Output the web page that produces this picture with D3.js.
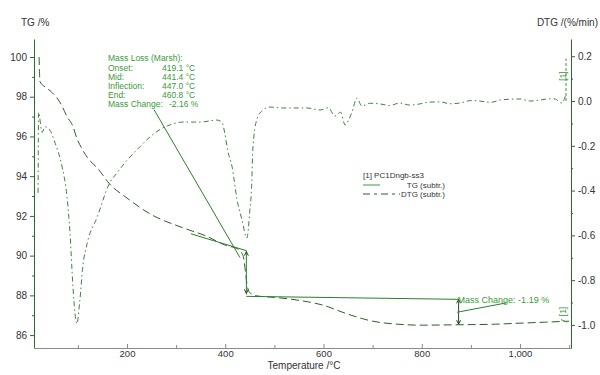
<!DOCTYPE html>
<html>
<head>
<meta charset="utf-8">
<script src="https://cdn.jsdelivr.net/npm/d3@7"></script>
<style>
  body { margin: 0; background: #fff; }
  svg { font-family: "Liberation Sans", Arial, sans-serif; }
  .tick text { fill: #333; font-size: 10px; }
  .axis-label { fill: #333; font-size: 10px; }
  .note { fill: #3a9a3a; font-size: 8.5px; }
  .legend { fill: #333; font-size: 8px; }
</style>
</head>
<body>
<svg width="600" height="375"></svg>
<script>
// TG curve (mass %)
const tgTemp = [21, 23, 33, 48, 64, 78, 90, 98, 108, 119, 140, 165, 200, 247, 314, 360, 403, 424, 432, 438, 441, 444, 448, 455, 465, 500, 550, 600, 650, 700, 750, 800, 875, 950, 1000, 1050, 1100];
const tgMass = [100.0, 98.75, 98.5, 98.2, 97.7, 97.0, 96.5, 95.9, 95.4, 94.95, 94.4, 93.6, 92.9, 92.1, 91.4, 91.0, 90.5, 90.35, 90.2, 89.8, 89.2, 88.6, 88.2, 88.05, 87.97, 87.9, 87.75, 87.5, 87.05, 86.7, 86.55, 86.5, 86.52, 86.55, 86.6, 86.65, 86.7];

// DTG curve (%/min)
const dtgTemp = [19, 20, 27, 33, 43, 54, 68, 78, 84, 90, 94, 98, 104, 110, 119, 139, 165, 180, 200, 226, 247, 273, 287, 314, 349, 383, 393, 399, 405, 414, 424, 434, 444, 450, 454, 456, 464, 477, 491, 517, 546, 566, 593, 610, 623, 635, 644, 652, 658, 668, 678, 695, 715, 735, 755, 775, 796, 815, 837, 858, 878, 900, 918, 940, 959, 980, 1000, 1020, 1040, 1060, 1071, 1085, 1093];
const dtgRate = [-0.41, -0.05, -0.14, -0.115, -0.13, -0.19, -0.295, -0.43, -0.59, -0.83, -0.945, -0.995, -0.89, -0.74, -0.635, -0.52, -0.365, -0.32, -0.265, -0.205, -0.16, -0.12, -0.107, -0.094, -0.094, -0.085, -0.094, -0.143, -0.22, -0.295, -0.44, -0.53, -0.612, -0.49, -0.365, -0.22, -0.085, -0.04, -0.027, -0.031, -0.031, -0.031, -0.04, -0.03, -0.067, -0.05, -0.107, -0.08, -0.049, 0.013, -0.022, -0.01, -0.013, -0.02, -0.009, -0.018, -0.013, -0.005, -0.004, -0.012, -0.009, 0.002, 0.0, -0.006, 0.004, 0.008, 0.009, 0.0, 0.004, 0.01, 0.009, -0.009, 0.027];

// tick labels
const xTicks = [200, 400, 600, 800, 1000];
const xMinor = [100, 300, 500, 700, 900, 1100];
const tgTicks = [86, 88, 90, 92, 94, 96, 98, 100];
const tgMinor = [87, 89, 91, 93, 95, 97, 99];
const dtgTicks = [-1.0, -0.8, -0.6, -0.4, -0.2, 0.0, 0.2];
const dtgMinor = [-0.9, -0.7, -0.5, -0.3, -0.1, 0.1];

// Marsh evaluation text
const marshLabels = ['Onset:', 'Mid:', 'Inflection:', 'End:', 'Mass Change:'];
const marshValues = ['419.1 °C', '441.4 °C', '447.0 °C', '460.8 °C', '-2.16 %'];

const svg = d3.select('svg');
const width = +svg.attr('width');
const height = +svg.attr('height');

const margin = { top: 39, right: 29, bottom: 27, left: 34 };
const innerBottom = height - margin.bottom;
const innerRight = width - margin.right;

const green = '#2b6b2b';
const noteGreen = '#3a9a3a';

const xScale = d3.scaleLinear().domain([10.7, 1103.8]).range([margin.left, innerRight]);
const yTG = d3.scaleLinear().domain([85.35, 100.906]).range([innerBottom, margin.top]);
const yDTG = d3.scaleLinear().domain([-1.103, 0.277]).range([innerBottom, margin.top]);

const styleAxis = (g, color) => {
  g.select('.domain').attr('stroke', color);
  g.selectAll('.tick line').attr('stroke', color);
};

// left axis
const leftG = svg.append('g').attr('transform', `translate(${margin.left},0)`);
leftG.call(d3.axisLeft(yTG).tickValues(tgTicks).tickSize(4).tickSizeOuter(0).tickPadding(3));
styleAxis(leftG, green);
svg.append('g').attr('transform', `translate(${margin.left},0)`)
  .call(d3.axisLeft(yTG).tickValues(tgMinor).tickSize(2).tickFormat(''))
  .call(g => g.select('.domain').remove())
  .selectAll('.tick line').attr('stroke', green);

// right axis
const rightG = svg.append('g').attr('transform', `translate(${innerRight},0)`);
rightG.call(d3.axisRight(yDTG).tickValues(dtgTicks).tickSize(4).tickSizeOuter(0).tickPadding(3)
  .tickFormat(d => d.toFixed(1)));
styleAxis(rightG, green);
svg.append('g').attr('transform', `translate(${innerRight},0)`)
  .call(d3.axisRight(yDTG).tickValues(dtgMinor).tickSize(2).tickFormat(''))
  .call(g => g.select('.domain').remove())
  .selectAll('.tick line').attr('stroke', green);

// bottom axis, ticks pointing inward
const bottomG = svg.append('g').attr('transform', `translate(0,${innerBottom})`);
bottomG.call(d3.axisBottom(xScale).tickValues(xTicks).tickSize(-4).tickSizeOuter(0).tickPadding(2));
styleAxis(bottomG, '#8a8a8a');
bottomG.selectAll('.tick text').style('font-size', '9.5px');
svg.append('g').attr('transform', `translate(0,${innerBottom})`)
  .call(d3.axisBottom(xScale).tickValues(xMinor).tickSize(-3).tickFormat(''))
  .call(g => g.select('.domain').remove())
  .selectAll('.tick line').attr('stroke', '#8a8a8a');

// axis titles
svg.append('text').attr('class', 'axis-label').attr('x', 21).attr('y', 26).text('TG /%');
svg.append('text').attr('class', 'axis-label').attr('x', 598).attr('y', 26)
  .attr('text-anchor', 'end').text('DTG /(%/min)');
svg.append('text').attr('class', 'axis-label').attr('x', 304).attr('y', 369)
  .attr('text-anchor', 'middle').text('Temperature /°C');

// curves
const tgData = tgTemp.map((t, i) => ({ t, v: tgMass[i] }));
const dtgData = dtgTemp.map((t, i) => ({ t, v: dtgRate[i] }));

svg.append('path').datum(dtgData)
  .attr('fill', 'none').attr('stroke', '#3f7f3f').attr('stroke-width', 1)
  .attr('stroke-dasharray', '5,3,1.5,3')
  .attr('d', d3.line().x(d => xScale(d.t)).y(d => yDTG(d.v)).curve(d3.curveMonotoneX));

svg.append('path').datum(tgData)
  .attr('fill', 'none').attr('stroke', '#2a5f2a').attr('stroke-width', 1)
  .attr('stroke-dasharray', '8,4')
  .attr('d', d3.line().x(d => xScale(d.t)).y(d => yTG(d.v)).curve(d3.curveMonotoneX));

// evaluation lines
const seg = (t1, v1, t2, v2, color) => svg.append('line')
  .attr('x1', xScale(t1)).attr('y1', yTG(v1))
  .attr('x2', xScale(t2)).attr('y2', yTG(v2))
  .attr('stroke', color).attr('stroke-width', 1);

seg(255, 97.35, 430, 89.9, '#2e7d2e');        // leader to mid point
seg(330, 91.1, 443, 90.25, '#2e7d2e');        // onset tangent
seg(443, 90.25, 443, 88.05, '#2e7d2e');       // step
seg(443, 87.95, 875, 87.8, '#2e7d2e');        // level for second change
seg(875, 87.8, 875, 86.55, '#1f4f1f');        // arrow
seg(872, 87.15, 972, 87.62, '#2e7d2e');       // leader for -1.19 %

const arrowHead = (t, v, dir) => {
  const x = xScale(t), y = yTG(v);
  svg.append('path')
    .attr('d', `M${x - 2},${y + dir * 4}L${x},${y}L${x + 2},${y + dir * 4}`)
    .attr('fill', 'none').attr('stroke', '#1f4f1f');
};
arrowHead(875, 87.8, 1);
arrowHead(875, 86.55, -1);
arrowHead(443, 90.2, 1);
arrowHead(443, 88.1, -1);

// Marsh text block
const noteX = 108;
svg.append('text').attr('class', 'note').attr('x', noteX).attr('y', 61).text('Mass Loss (Marsh):');
marshLabels.forEach((lab, i) => {
  const y = 70.5 + i * 9;
  svg.append('text').attr('class', 'note').attr('x', noteX).attr('y', y).text(lab);
  svg.append('text').attr('class', 'note').attr('x', i === 4 ? 169 : 162).attr('y', y).text(marshValues[i]);
});

svg.append('text').attr('class', 'note').attr('x', xScale(875) - 1).attr('y', yTG(87.8) + 3.5)
  .style('font-size', '9px').text('Mass Change: -1.19 %');

// [1] curve markers
const endMark = (x, y) => svg.append('text').attr('class', 'note')
  .attr('font-size', '6px')
  .attr('transform', `translate(${x},${y}) rotate(-90)`).text('[1]');
endMark(566, yTG(86.95));
endMark(566, yDTG(0.09));
svg.append('line').attr('x1', 561).attr('y1', yTG(86.78)).attr('x2', 567).attr('y2', yTG(86.65))
  .attr('stroke', noteGreen);
svg.append('line').attr('x1', 566).attr('y1', yDTG(0.0)).attr('x2', 566).attr('y2', yDTG(0.19))
  .attr('stroke', noteGreen).attr('stroke-dasharray', '3,2');

// legend
const lg = svg.append('g').attr('transform', 'translate(363,0)');
lg.append('text').attr('class', 'legend').attr('x', 0).attr('y', 178).text('[1] PC1Dngb-ss3');
lg.append('line').attr('x1', 0).attr('x2', 17).attr('y1', 185).attr('y2', 185)
  .attr('stroke', '#3a9a3a');
lg.append('text').attr('class', 'legend').attr('x', 82).attr('y', 188)
  .attr('text-anchor', 'end').text('TG (subtr.)');
lg.append('line').attr('x1', 0).attr('x2', 37).attr('y1', 194).attr('y2', 194)
  .attr('stroke', '#2a5f2a').attr('stroke-dasharray', '7,4,3,4');
lg.append('text').attr('class', 'legend').attr('x', 82).attr('y', 197)
  .attr('text-anchor', 'end').text('DTG (subtr.)');
</script>
</body>
</html>
